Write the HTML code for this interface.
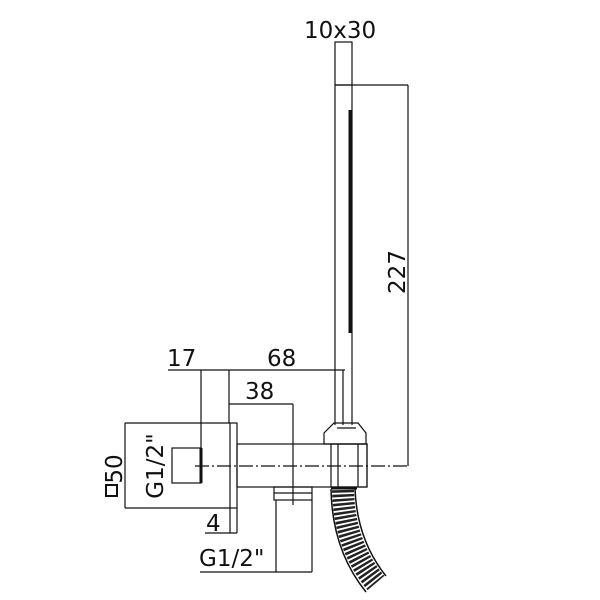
<!DOCTYPE html>
<html><head><style>body{margin:0;background:#fff}svg{display:block}</style></head><body>
<svg width="600" height="600" viewBox="0 0 600 600" xmlns="http://www.w3.org/2000/svg" font-family="'DejaVu Sans','Liberation Sans',sans-serif" fill="none" stroke="#111" stroke-width="1.2">
<!-- handle -->
<rect x="335" y="42" width="17" height="43"/>
<line x1="335" y1="85" x2="335" y2="425"/>
<line x1="352" y1="85" x2="352" y2="425"/>
<line x1="350" y1="110" x2="350" y2="333" stroke-width="3"/>
<line x1="335" y1="85" x2="408" y2="85"/>
<line x1="408" y1="85" x2="408" y2="466"/>
<!-- dims top -->
<line x1="168" y1="370" x2="345" y2="370"/>
<line x1="201" y1="370" x2="201" y2="448"/>
<line x1="229" y1="370" x2="229" y2="423"/>
<line x1="343" y1="370" x2="343" y2="425"/>
<line x1="229" y1="404" x2="293" y2="404"/>
<line x1="293" y1="404" x2="293" y2="505"/>
<!-- wall plate -->
<rect x="230" y="423" width="7" height="85"/>
<line x1="125" y1="423" x2="230" y2="423"/>
<line x1="125" y1="508" x2="230" y2="508"/>
<line x1="125" y1="423" x2="125" y2="508"/>
<rect x="172" y="448" width="29" height="35"/>
<line x1="201" y1="448" x2="201" y2="483" stroke-width="3"/>
<!-- pipe -->
<rect x="237" y="444" width="130" height="43"/>
<rect x="331" y="444" width="36" height="43"/>
<line x1="338" y1="444" x2="338" y2="487"/>
<line x1="358" y1="444" x2="358" y2="487"/>
<path d="M324 444 L324 433 L334 423 L358 423 L366 433 L366 444 Z"/>
<line x1="337" y1="428" x2="356" y2="428"/>
<line x1="195" y1="466" x2="408" y2="466" stroke-dasharray="14 3 2 3"/>
<!-- outlet -->
<rect x="274" y="487" width="38" height="13"/>
<line x1="274" y1="493" x2="312" y2="493"/>
<line x1="276" y1="500" x2="276" y2="572"/>
<line x1="312" y1="500" x2="312" y2="572"/>
<line x1="200" y1="572" x2="312" y2="572"/>
<line x1="230" y1="508" x2="230" y2="533"/>
<line x1="237" y1="508" x2="237" y2="533"/>
<line x1="205" y1="533" x2="237" y2="533"/>
<!-- hose -->
<path d="M343 490 Q344 545 376 583" stroke="#222" stroke-width="22" stroke-dasharray="2.5 1.8"/>
<path d="M331 489 Q332 550 366 592" stroke-width="1.5"/>
<path d="M355 489 Q357 540 386 576" stroke-width="1.5"/>
<line x1="331" y1="488" x2="357" y2="488" stroke-width="3"/>
<!-- text -->
<g fill="#111" stroke="none" font-size="23">
<text x="304" y="38">10x30</text>
<text x="167" y="366">17</text>
<text x="267" y="366">68</text>
<text x="245" y="399">38</text>
<text x="206" y="531">4</text>
<text x="199" y="566">G1/2"</text>
<text transform="translate(405,272) rotate(-90)" text-anchor="middle">227</text>
<text transform="translate(163,466) rotate(-90)" text-anchor="middle">G1/2"</text>
<text transform="translate(122,469) rotate(-90)" text-anchor="middle">50</text>
</g>
<rect x="106" y="485" width="11" height="11" stroke-width="2"/>
</svg>
</body></html>
